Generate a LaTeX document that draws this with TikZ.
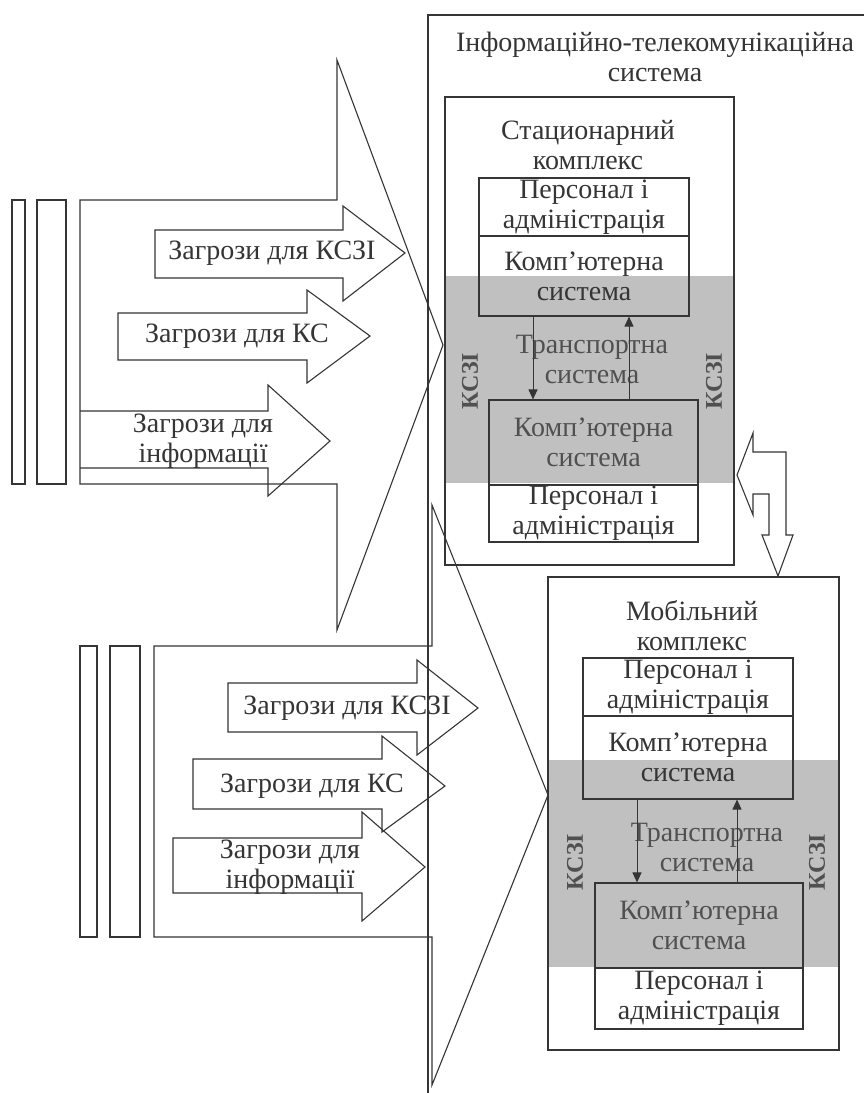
\documentclass[tikz,border=0pt]{standalone}
\usepackage{fontspec}
\setmainfont{Liberation Serif}
\usetikzlibrary{arrows.meta}
\definecolor{ink}{HTML}{353535}
\definecolor{band}{HTML}{C0C0C0}
\definecolor{fadeink}{HTML}{505050}
\newcommand{\bigtxt}{\fontsize{28}{30}\selectfont}
\newcommand{\kszitxt}{\fontsize{24}{26}\selectfont\bfseries}
\tikzset{
  outline/.style={draw=ink, line width=1.1pt, line join=miter},
  cell/.style={outline, inner sep=0pt, align=center, text=ink, font=\bigtxt},
  txt/.style={align=center, inner sep=0pt, text=ink, font=\bigtxt},
  kszi/.style={rotate=90, inner sep=0pt, text=fadeink, font=\kszitxt},
  flow/.style={draw=ink, line width=1pt, -{Triangle[length=10pt,width=9pt]}},
}
\begin{document}
\begin{tikzpicture}[x=1pt,y=-1pt]
  \useasboundingbox[fill=white] (0,0) rectangle (864,1093);

  % upper threat group
  \draw[outline] (12,200) rectangle (25,484);
  \draw[outline] (37,200) rectangle (66,484);
  \draw[outline] (80,200) -- (337,200) -- (337,60) -- (443,345) -- (337,630) -- (337,484) -- (80,484) -- cycle;
  \draw[outline] (155,230) -- (343,230) -- (343,206) -- (405,253) -- (343,301) -- (343,278) -- (155,278) -- cycle;
  \draw[outline] (118,313) -- (307,313) -- (307,290) -- (370,336) -- (307,383) -- (307,360) -- (118,360) -- cycle;
  \draw[outline] (80,411) -- (268,411) -- (268,385) -- (330,441) -- (268,496) -- (268,468) -- (80,468);
  \node[txt] (upKszi) at (272,253) {Загрози для КСЗІ};
  \node[txt] (upKs) at (237,336) {Загрози для КС};
  \node[txt] (upInfo) at (203,441) {Загрози для\\інформації};

  % lower threat group
  \draw[outline] (80,646) rectangle (97,937);
  \draw[outline] (110,646) rectangle (140,937);
  \draw[outline] (154,646) -- (432,646) -- (432,505) -- (548,795) -- (432,1085) -- (432,937) -- (154,937) -- cycle;
  \draw[outline] (228,683) -- (417,683) -- (417,660) -- (478,708) -- (417,755) -- (417,732) -- (228,732) -- cycle;
  \draw[outline] (193,759) -- (382,759) -- (382,736) -- (445,786) -- (382,832) -- (382,809) -- (193,809) -- cycle;
  \draw[outline] (173,838) -- (362,838) -- (362,812) -- (425,867) -- (362,921) -- (362,893) -- (173,893) -- cycle;
  \node[txt] (loKszi) at (347,708) {Загрози для КСЗІ};
  \node[txt] (loKs) at (312,786) {Загрози для КС};
  \node[txt] (loInfo) at (290,867) {Загрози для\\інформації};

  % information and telecommunication system
  \draw[outline] (864,15) -- (428,15) -- (428,1093);
  \node[txt] (itsTitle) at (655,57) {Інформаційно-телекомунікаційна\\система};

  % stationary complex
  \fill[band] (445,276) rectangle (734,483);
  \node[outline, minimum width=289pt, minimum height=468pt, inner sep=0pt] (stBox) at (589.5,331) {};
  \node[txt] (stTitle) at (588,145) {Стационарний\\комплекс};
  \node[cell, minimum width=210pt, minimum height=58pt] (stPers) at (584,207) {Персонал і\\адміністрація};
  \node[cell, minimum width=210pt, minimum height=80pt] (stKomp) at (584,276) {Комп’ютерна\\система};
  \node[cell, minimum width=209pt, minimum height=85pt, text=fadeink] (stKomp2) at (593.5,442.5) {Комп’ютерна\\система};
  \node[cell, minimum width=209pt, minimum height=57pt] (stPers2) at (593.5,513.5) {Персонал і\\адміністрація};
  \node[txt, text=fadeink] (stTrans) at (592,359) {Транспортна\\система};
  \draw[flow] ([xshift=-51pt]stKomp.south) -- ([xshift=-51pt]stKomp.south |- stKomp2.north);
  \draw[flow] ([xshift=35.5pt]stKomp2.north) -- ([xshift=35.5pt]stKomp2.north |- stKomp.south);
  \node[kszi] (stKsziL) at (470,381) {КСЗІ};
  \node[kszi] (stKsziR) at (714,381) {КСЗІ};

  % link between complexes
  \draw[outline] (737,475) -- (753,433) -- (753,452) -- (786,452) -- (786,535) -- (793,535) -- (778,576)
    -- (762,535) -- (769,535) -- (769,494) -- (753,494) -- (753,515) -- cycle;

  % mobile complex
  \fill[band] (548,760) rectangle (839,967);
  \node[outline, minimum width=291pt, minimum height=473pt, inner sep=0pt] (mbBox) at (693.5,813.5) {};
  \node[txt] (mbTitle) at (692,626) {Мобільний\\комплекс};
  \node[cell, minimum width=210pt, minimum height=58pt] (mbPers) at (688,687) {Персонал і\\адміністрація};
  \node[cell, minimum width=210pt, minimum height=83pt] (mbKomp) at (688,757.5) {Комп’ютерна\\система};
  \node[cell, minimum width=208pt, minimum height=85pt, text=fadeink] (mbKomp2) at (699,925.5) {Комп’ютерна\\система};
  \node[cell, minimum width=208pt, minimum height=61pt] (mbPers2) at (699,998.5) {Персонал і\\адміністрація};
  \node[txt, text=fadeink] (mbTrans) at (707,847) {Транспортна\\система};
  \draw[flow] ([xshift=-51pt]mbKomp.south) -- ([xshift=-51pt]mbKomp.south |- mbKomp2.north);
  \draw[flow] ([xshift=38pt]mbKomp2.north) -- ([xshift=38pt]mbKomp2.north |- mbKomp.south);
  \node[kszi] (mbKsziL) at (575,862) {КСЗІ};
  \node[kszi] (mbKsziR) at (817,862) {КСЗІ};
\end{tikzpicture}
\end{document}
